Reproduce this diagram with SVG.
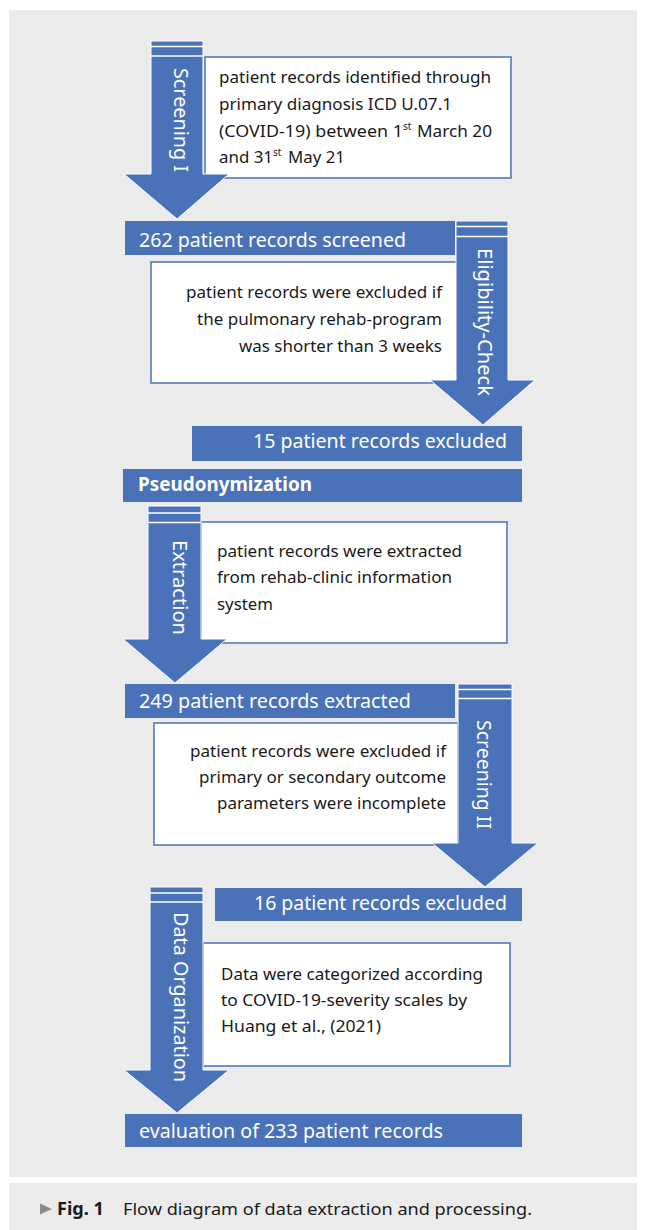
<svg xmlns="http://www.w3.org/2000/svg" width="645" height="1230" viewBox="0 0 645 1230">
<style>
.panel{fill:#ebebeb}
.bar{fill:#4a72b8}
.arrow{fill:#4a72b8;stroke:#ffffff;stroke-width:1}
.sep{stroke:#ffffff;stroke-width:1.5}
.box{fill:#ffffff;stroke:#4a72b8;stroke-width:1.5}
.bt{font-family:"Noto Sans","Open Sans","Liberation Sans",sans-serif;font-size:16px;fill:#1a1a1a}
.lt{font-family:"Noto Sans","Open Sans","Liberation Sans",sans-serif;font-size:20px;fill:#ffffff}
.vt{font-family:"Noto Sans","Open Sans","Liberation Sans",sans-serif;font-size:19px;fill:#ffffff}
.sup{font-size:10px}
.cap{font-family:"Noto Sans","Open Sans","Liberation Sans",sans-serif;font-size:17px;fill:#1a1a1a}
</style>
<rect class="panel" x="9" y="10" width="628" height="1167"/>
<rect class="panel" x="9" y="1183" width="628" height="47"/>

<!-- text boxes -->
<g id="box-screening-i">
<rect class="box" x="205" y="57" width="306" height="121"/>
<text class="bt" x="219" y="83" textLength="272" lengthAdjust="spacingAndGlyphs">patient records identified through</text>
<text class="bt" x="219" y="110" textLength="233" lengthAdjust="spacingAndGlyphs">primary diagnosis ICD U.07.1</text>
<text class="bt" x="219" y="137"><tspan textLength="184" lengthAdjust="spacingAndGlyphs">(COVID-19) between 1</tspan><tspan class="sup" x="403" y="130">st</tspan><tspan x="417" y="137" textLength="75" lengthAdjust="spacingAndGlyphs">March 20</tspan></text>
<text class="bt" x="219" y="163"><tspan textLength="54" lengthAdjust="spacingAndGlyphs">and 31</tspan><tspan class="sup" x="273" y="156">st</tspan><tspan x="288" y="163" textLength="57" lengthAdjust="spacingAndGlyphs">May 21</tspan></text>
</g>

<g id="box-eligibility">
<rect class="box" x="151" y="262" width="306" height="121"/>
<text class="bt" x="186" y="298" textLength="256" lengthAdjust="spacingAndGlyphs">patient records were excluded if</text>
<text class="bt" x="197" y="325" textLength="245" lengthAdjust="spacingAndGlyphs">the pulmonary rehab-program</text>
<text class="bt" x="239" y="352" textLength="203" lengthAdjust="spacingAndGlyphs">was shorter than 3 weeks</text>
</g>

<g id="box-extraction">
<rect class="box" x="201" y="522" width="306" height="121"/>
<text class="bt" x="217" y="557" textLength="245" lengthAdjust="spacingAndGlyphs">patient records were extracted</text>
<text class="bt" x="217" y="583" textLength="235" lengthAdjust="spacingAndGlyphs">from rehab-clinic information</text>
<text class="bt" x="217" y="610" textLength="56" lengthAdjust="spacingAndGlyphs">system</text>
</g>

<g id="box-screening-ii">
<rect class="box" x="154" y="723" width="304" height="122"/>
<text class="bt" x="190" y="757" textLength="256" lengthAdjust="spacingAndGlyphs">patient records were excluded if</text>
<text class="bt" x="199" y="783" textLength="247" lengthAdjust="spacingAndGlyphs">primary or secondary outcome</text>
<text class="bt" x="217" y="809" textLength="229" lengthAdjust="spacingAndGlyphs">parameters were incomplete</text>
</g>

<g id="box-data-organization">
<rect class="box" x="203" y="943" width="307" height="123"/>
<text class="bt" x="221" y="980" textLength="262" lengthAdjust="spacingAndGlyphs">Data were categorized according</text>
<text class="bt" x="221" y="1006" textLength="246" lengthAdjust="spacingAndGlyphs">to COVID-19-severity scales by</text>
<text class="bt" x="221" y="1032" textLength="160" lengthAdjust="spacingAndGlyphs">Huang et al., (2021)</text>
</g>

<!-- block arrows (connectors) -->
<g id="connectors">
<g id="arrow-screening-i">
<polygon class="arrow" points="151,41 203,41 203,174 229,174 177,219 124,174 151,174"/>
<line class="sep" x1="151" y1="46.5" x2="203" y2="46.5"/>
<line class="sep" x1="151" y1="56" x2="203" y2="56"/>
<text class="vt" transform="translate(174,68) rotate(90)" textLength="104" lengthAdjust="spacingAndGlyphs">Screening I</text>
</g>
<g id="arrow-eligibility">
<polygon class="arrow" points="456,221 508,221 508,380 535,380 483,425 430,380 456,380"/>
<line class="sep" x1="456" y1="226.5" x2="508" y2="226.5"/>
<line class="sep" x1="456" y1="236.5" x2="508" y2="236.5"/>
<text class="vt" transform="translate(478,248) rotate(90)" textLength="148" lengthAdjust="spacingAndGlyphs">Eligibility-Check</text>
</g>
<g id="arrow-extraction">
<polygon class="arrow" points="148,506 201,506 201,639 227,639 175,683 123,639 148,639"/>
<line class="sep" x1="148" y1="513" x2="201" y2="513"/>
<line class="sep" x1="148" y1="522.5" x2="201" y2="522.5"/>
<text class="vt" transform="translate(173,540) rotate(90)" textLength="95" lengthAdjust="spacingAndGlyphs">Extraction</text>
</g>
<g id="arrow-screening-ii">
<polygon class="arrow" points="458,684 512,684 512,843 538,843 485,887 432,843 458,843"/>
<line class="sep" x1="458" y1="689.5" x2="512" y2="689.5"/>
<line class="sep" x1="458" y1="698.5" x2="512" y2="698.5"/>
<text class="vt" transform="translate(477,720) rotate(90)" textLength="109" lengthAdjust="spacingAndGlyphs">Screening II</text>
</g>
<g id="arrow-data-organization">
<polygon class="arrow" points="150,887 203,887 203,1070 229,1070 177,1113 124,1070 150,1070"/>
<line class="sep" x1="150" y1="893" x2="203" y2="893"/>
<line class="sep" x1="150" y1="902" x2="203" y2="902"/>
<text class="vt" transform="translate(174,912) rotate(90)" textLength="170" lengthAdjust="spacingAndGlyphs">Data Organization</text>
</g>
</g>

<!-- bars -->
<g id="bar-262-screened">
<rect class="bar" x="125" y="221" width="330" height="34"/>
<text class="lt" x="139" y="247" textLength="267" lengthAdjust="spacingAndGlyphs">262 patient records screened</text>
</g>
<g id="bar-15-excluded">
<rect class="bar" x="192" y="426" width="330" height="35"/>
<text class="lt" x="253" y="448" textLength="254" lengthAdjust="spacingAndGlyphs">15 patient records excluded</text>
</g>
<g id="bar-pseudonymization">
<rect class="bar" x="123" y="469" width="399" height="33"/>
<text class="lt" x="138" y="491" font-weight="bold" textLength="174" lengthAdjust="spacingAndGlyphs">Pseudonymization</text>
</g>
<g id="bar-249-extracted">
<rect class="bar" x="125" y="684" width="330" height="34"/>
<text class="lt" x="139" y="708" textLength="272" lengthAdjust="spacingAndGlyphs">249 patient records extracted</text>
</g>
<g id="bar-16-excluded">
<rect class="bar" x="215" y="888" width="307" height="33"/>
<text class="lt" x="254" y="910" textLength="253" lengthAdjust="spacingAndGlyphs">16 patient records excluded</text>
</g>
<g id="bar-233-evaluation">
<rect class="bar" x="125" y="1114" width="397" height="33"/>
<text class="lt" x="139" y="1138" textLength="304" lengthAdjust="spacingAndGlyphs">evaluation of 233 patient records</text>
</g>

<!-- caption -->
<g id="caption">
<polygon points="40,1203.5 52,1209 40,1214.5" fill="#8a8a8a"/>
<text class="cap" x="57" y="1215" font-weight="bold" textLength="47" lengthAdjust="spacingAndGlyphs">Fig. 1</text>
<text class="cap" x="123" y="1215" textLength="409" lengthAdjust="spacingAndGlyphs">Flow diagram of data extraction and processing.</text>
</g>
</svg>
